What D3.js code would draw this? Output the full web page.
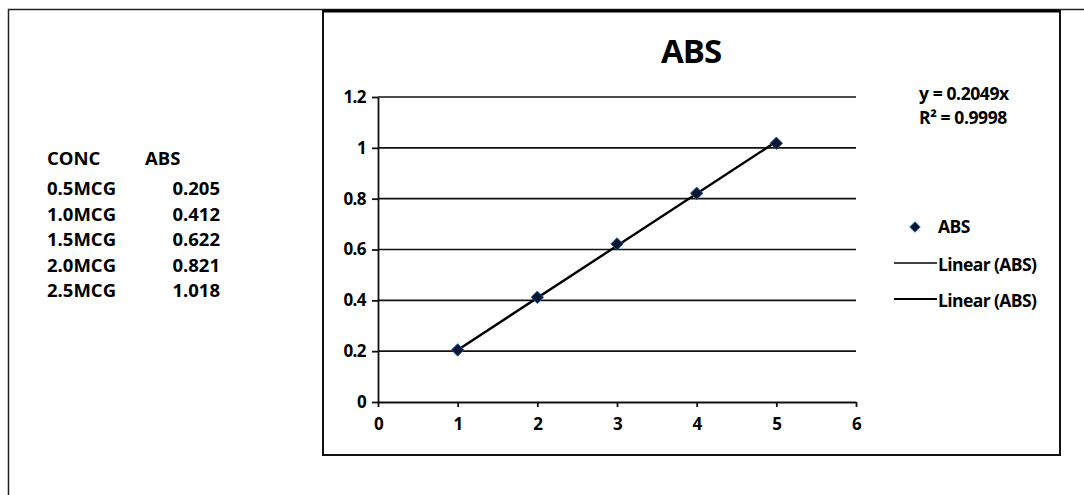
<!DOCTYPE html>
<html><head><meta charset="utf-8">
<script src="https://cdn.jsdelivr.net/npm/d3@7"></script>
<style>body{margin:0;background:#fff}svg{display:block}text{font-family:"Open Sans","Noto Sans",sans-serif;font-weight:700;fill:#000}</style>
</head><body><svg id="c" width="1084" height="495"></svg>
<script>
const concLabels = ["0.5MCG","1.0MCG","1.5MCG","2.0MCG","2.5MCG"];
const absText = ["0.205","0.412","0.622","0.821","1.018"];
const xVals = [1,2,3,4,5];
const absVals = [0.205,0.412,0.622,0.821,1.018];
const slope = 0.2049;
const r2 = 0.9998;
const xTicks = [0,1,2,3,4,5,6];
const yTicks = [0,0.2,0.4,0.6,0.8,1,1.2];
const legendItems = ["ABS","Linear (ABS)","Linear (ABS)"];

const svg = d3.select("#c");
// outer frame
svg.append("path").attr("d","M8.5,495 L8.5,9.5 L1084,9.5").attr("fill","none").attr("stroke","#222").attr("stroke-width",1.5);
// chart box
svg.append("rect").attr("x",323).attr("y",11).attr("width",737).attr("height",444).attr("fill","#fff").attr("stroke","#111").attr("stroke-width",2);
svg.append("line").attr("x1",323).attr("x2",1060).attr("y1",11).attr("y2",11).attr("stroke","#000").attr("stroke-width",3);

// table
const tbl = svg.append("g").style("font-size","18.5px").style("letter-spacing","0px");
tbl.append("text").attr("x",47).attr("y",165).text("CONC");
tbl.append("text").attr("x",145).attr("y",165).text("ABS");
concLabels.forEach((c,i)=>{
  tbl.append("text").attr("x",47).attr("y",195+i*25.6).text(c);
  tbl.append("text").attr("x",220).attr("y",195+i*25.6).attr("text-anchor","end").text(absText[i]);
});

const x = d3.scaleLinear().domain([0,6]).range([378,856]);
const y = d3.scaleLinear().domain([0,1.2]).range([402,97]);

// gridlines
svg.append("g").selectAll("line").data(yTicks.filter(d=>d>0)).join("line")
  .attr("x1",x(0)).attr("x2",x(6)).attr("y1",d=>y(d)).attr("y2",d=>y(d))
  .attr("stroke","#111").attr("stroke-width",1.6);

const xa = svg.append("g").attr("transform",`translate(0,${y(0)})`)
  .call(d3.axisBottom(x).tickValues(xTicks).tickFormat(d3.format("d")).tickSize(5).tickSizeOuter(0));
const ya = svg.append("g").attr("transform",`translate(${x(0)},0)`)
  .call(d3.axisLeft(y).tickValues(yTicks).tickFormat(d=>String(+d.toFixed(1))).tickSize(6).tickSizeOuter(0));
[xa,ya].forEach(a=>{
  a.selectAll("path,line").attr("stroke","#111").attr("stroke-width",1.8);
  a.selectAll("text").style("font-size","17px").style("font-family","'Open Sans',sans-serif").style("font-weight","700").style("letter-spacing","-0.6px").attr("fill","#000");
});
xa.selectAll("text").attr("y",16).attr("dy","0.71em");
ya.selectAll("text").attr("x",-12);

// trendline
svg.append("line").attr("x1",x(1)).attr("y1",y(slope*1)).attr("x2",x(5)).attr("y2",y(slope*5))
  .attr("stroke","#000").attr("stroke-width",2.4);

// markers
const diamond = d3.symbol().type(d3.symbolSquare).size(78);
svg.append("g").selectAll("path").data(xVals.map((v,i)=>[v,absVals[i]])).join("path")
  .attr("d",diamond).attr("transform",d=>`translate(${x(d[0])},${y(d[1])}) rotate(45)`)
  .attr("fill","#0b1730").attr("stroke","#1a5fb4").attr("stroke-width",0.8);

// title
svg.append("text").attr("x",691).attr("y",63).attr("text-anchor","middle").style("font-size","33px").style("letter-spacing","-1px").text("ABS");

// equation
svg.append("text").attr("x",919).attr("y",100).style("font-size","17.5px").style("letter-spacing","-0.4px").text(`y = ${slope}x`);
svg.append("text").attr("x",919).attr("y",124).style("font-size","17.5px").style("letter-spacing","-0.4px").text(`R² = ${r2}`);

// legend
const lg = svg.append("g").style("font-size","17.5px").style("letter-spacing","-0.6px");
lg.append("path").attr("d",d3.symbol().type(d3.symbolSquare).size(55)()).attr("transform","translate(915,227) rotate(45)").attr("fill","#0b1730").attr("stroke","#1a5fb4").attr("stroke-width",0.8);
lg.append("text").attr("x",938).attr("y",233).text(legendItems[0]);
lg.append("line").attr("x1",894).attr("x2",937).attr("y1",263).attr("y2",263).attr("stroke","#000").attr("stroke-width",1.4);
lg.append("text").attr("x",938).attr("y",271).text(legendItems[1]);
lg.append("line").attr("x1",894).attr("x2",937).attr("y1",299).attr("y2",299).attr("stroke","#000").attr("stroke-width",2);
lg.append("text").attr("x",938).attr("y",307).text(legendItems[2]);
</script></body></html>
